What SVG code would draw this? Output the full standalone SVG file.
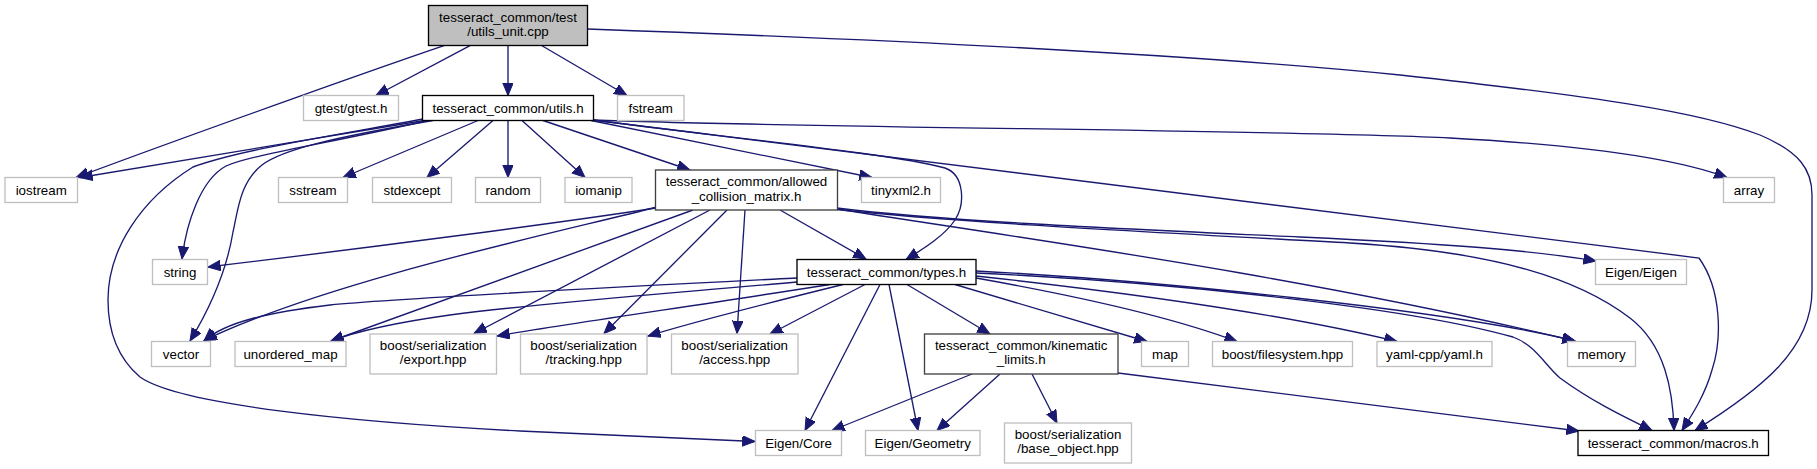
<svg xmlns="http://www.w3.org/2000/svg" width="1817" height="469" viewBox="0 0 1817 469">
<style>
text{font-family:"Liberation Sans",Arial,Helvetica,sans-serif;font-size:13.33px;fill:#000;text-anchor:middle}
.g{fill:#fff;stroke:#bfbfbf;stroke-width:1.33}
.d{fill:#fff;stroke:#000;stroke-width:1.33}
.m{fill:#fff;stroke:#404040;stroke-width:1.33}
.r{fill:#bfbfbf;stroke:#000;stroke-width:1.33}
.e path{fill:none;stroke:#191970;stroke-width:1.33;marker-end:url(#a)}
</style>
<defs>
<marker id="a" markerUnits="userSpaceOnUse" markerWidth="14" markerHeight="12" refX="12.7" refY="5.3" orient="auto">
<path d="M0,0 L12.7,5.3 L0,10.6 z" fill="#191970" stroke="#191970" stroke-width="1"/>
</marker>
</defs>
<rect width="1817" height="469" fill="#fff"/>
<g class="e" id="edges">
<path d="M444,45.7 C390,64 220,124 76,177.5"/>
<path d="M470,45.7 L376,95.5"/>
<path d="M508,45.7 L508,95.5"/>
<path d="M542,45.7 L627,95.5"/>
<path d="M587.5,29 C900,40 1200,55 1400,75 C1600,97 1700,112 1760,135 C1800,152 1812,170 1812,195 L1812,290 C1812,350 1760,390 1695,430.5"/>
<path d="M424,120.5 L80,177.5"/>
<path d="M428,120.5 C330,143 250,155 226,166 C200,180 186,225 182,259"/>
<path d="M433,120.5 C330,138 282,150 262,165 C240,182 238,210 233,232 C228,262 215,300 190,341"/>
<path d="M423,119 C320,138 240,150 193,167 C140,200 108,250 108,300 C108,335 120,360 140,377 C180,405 350,422 520,431 C620,436 700,439 755,441.5"/>
<path d="M478,120.5 L343,177.5"/>
<path d="M493,120.5 L427,177.5"/>
<path d="M508,120.5 L508,177.5"/>
<path d="M522,120.5 L585,177.5"/>
<path d="M543,120.5 L690,170"/>
<path d="M591,120.5 L872,177.5"/>
<path d="M592,120 C750,140 900,155 945,168 C965,175 965,205 955,220 C945,235 925,248 906,259.5"/>
<path d="M593,120 C800,128 1300,130 1450,138 C1600,146 1680,160 1727,177.5"/>
<path d="M593,120 L1699,258 C1722,290 1722,340 1712,370 C1705,395 1692,415 1682,430.5"/>
<path d="M656,208 C560,223 350,250 208,267"/>
<path d="M657,207 C560,232 330,280 204,340.5"/>
<path d="M693,210 L331,341"/>
<path d="M710,210 L474,333.5"/>
<path d="M727,210 L604,333.5"/>
<path d="M745,210 L737,333.5"/>
<path d="M780,210 L866,259"/>
<path d="M837,208 C950,222 1150,230 1300,237 C1450,244 1530,250 1596,261"/>
<path d="M837,209 C1000,235 1300,275 1575,341"/>
<path d="M837,209.5 C950,222 1150,232 1350,243 C1500,252 1580,280 1630,318 C1665,345 1673,390 1674,430.5"/>
<path d="M797,278 C600,288 400,298 330,305 C270,312 225,322 204,341"/>
<path d="M797,282 C650,295 550,302 450,315 C400,322 360,330 331,341"/>
<path d="M830,284.5 C700,305 560,325 497,336"/>
<path d="M843,284.5 C760,305 700,320 648,336"/>
<path d="M865,284.5 L770,334"/>
<path d="M880,284.5 L805,430.5"/>
<path d="M889,284.5 L918,430.5"/>
<path d="M907,284.5 L990,334"/>
<path d="M955,284.5 L1147,341.5"/>
<path d="M976,278 C1100,300 1180,320 1237,341.5"/>
<path d="M976,276 C1150,295 1300,318 1397,341.5"/>
<path d="M976,271 C1150,280 1450,310 1575,341"/>
<path d="M976,273 C1150,281 1400,305 1513,337 C1535,345 1545,365 1560,378 C1590,400 1620,415 1652,430.5"/>
<path d="M972,374 L832,430.5"/>
<path d="M1000,374 L937,430.5"/>
<path d="M1032,374 L1057,423"/>
<path d="M1118,373 L1579,431"/>
</g>
<g id="root"><rect class="r" x="428.5" y="5.5" width="159" height="40"/><text x="508" y="21.7">tesseract_common/test</text><text x="508" y="36.4">/utils_unit.cpp</text></g>
<g id="gtest"><rect class="g" x="303.5" y="95.5" width="95" height="25"/><text x="351" y="112.5">gtest/gtest.h</text></g>
<g id="utils"><rect class="d" x="422.5" y="95.5" width="171" height="25"/><text x="508" y="112.5">tesseract_common/utils.h</text></g>
<g id="fstream"><rect class="g" x="617.5" y="95.5" width="66.5" height="25"/><text x="650.7" y="112.5">fstream</text></g>
<g id="iostream"><rect class="g" x="5" y="177.5" width="72.5" height="25"/><text x="41.2" y="194.5">iostream</text></g>
<g id="sstream"><rect class="g" x="278.5" y="177.5" width="69" height="25"/><text x="313" y="194.5">sstream</text></g>
<g id="stdexcept"><rect class="g" x="372.5" y="177.5" width="79" height="25"/><text x="412" y="194.5">stdexcept</text></g>
<g id="random"><rect class="g" x="475.5" y="177.5" width="65" height="25"/><text x="508" y="194.5">random</text></g>
<g id="iomanip"><rect class="g" x="565" y="177.5" width="67" height="25"/><text x="598.5" y="194.5">iomanip</text></g>
<g id="acm"><rect class="m" x="655.5" y="170" width="182" height="40"/><text x="746.5" y="186.2">tesseract_common/allowed</text><text x="746.5" y="200.9">_collision_matrix.h</text></g>
<g id="tinyxml2"><rect class="g" x="861.5" y="177.5" width="79" height="25"/><text x="901" y="194.5">tinyxml2.h</text></g>
<g id="array"><rect class="g" x="1723.5" y="177.5" width="51" height="25"/><text x="1749" y="194.5">array</text></g>
<g id="string"><rect class="g" x="152.5" y="259.5" width="55" height="25"/><text x="180" y="276.5">string</text></g>
<g id="types"><rect class="d" x="797" y="259.5" width="179" height="25"/><text x="886.5" y="276.5">tesseract_common/types.h</text></g>
<g id="eigen_eigen"><rect class="g" x="1595.5" y="259.5" width="91" height="25"/><text x="1641" y="276.5">Eigen/Eigen</text></g>
<g id="vector"><rect class="g" x="151.5" y="341.5" width="59" height="25"/><text x="181" y="358.5">vector</text></g>
<g id="unordered_map"><rect class="g" x="235" y="341.5" width="111" height="25"/><text x="290.5" y="358.5">unordered_map</text></g>
<g id="export"><rect class="g" x="370" y="334" width="126.5" height="40"/><text x="433.2" y="349.7">boost/serialization</text><text x="433.2" y="364.4">/export.hpp</text></g>
<g id="tracking"><rect class="g" x="520.5" y="334" width="126.5" height="40"/><text x="583.7" y="349.7">boost/serialization</text><text x="583.7" y="364.4">/tracking.hpp</text></g>
<g id="access"><rect class="g" x="671.5" y="334" width="126.5" height="40"/><text x="734.7" y="349.7">boost/serialization</text><text x="734.7" y="364.4">/access.hpp</text></g>
<g id="kinematic"><rect class="m" x="924.5" y="334" width="193.5" height="40"/><text x="1021.2" y="349.7">tesseract_common/kinematic</text><text x="1021.2" y="364.4">_limits.h</text></g>
<g id="map"><rect class="g" x="1141.5" y="341.5" width="47" height="25"/><text x="1165" y="358.5">map</text></g>
<g id="filesystem"><rect class="g" x="1212.5" y="341.5" width="140" height="25"/><text x="1282.5" y="358.5">boost/filesystem.hpp</text></g>
<g id="yaml"><rect class="g" x="1377" y="341.5" width="115" height="25"/><text x="1434.5" y="358.5">yaml-cpp/yaml.h</text></g>
<g id="memory"><rect class="g" x="1567.5" y="341.5" width="68" height="25"/><text x="1601.5" y="358.5">memory</text></g>
<g id="eigen_core"><rect class="g" x="755.5" y="430.5" width="86" height="25"/><text x="798.5" y="447.5">Eigen/Core</text></g>
<g id="eigen_geometry"><rect class="g" x="865.5" y="430.5" width="114.5" height="25"/><text x="922.7" y="447.5">Eigen/Geometry</text></g>
<g id="base_object"><rect class="g" x="1004.5" y="423" width="127" height="40"/><text x="1068" y="438.7">boost/serialization</text><text x="1068" y="453.4">/base_object.hpp</text></g>
<g id="macros"><rect class="d" x="1578" y="430.5" width="190.5" height="25"/><text x="1673.2" y="447.5">tesseract_common/macros.h</text></g>
</svg>
